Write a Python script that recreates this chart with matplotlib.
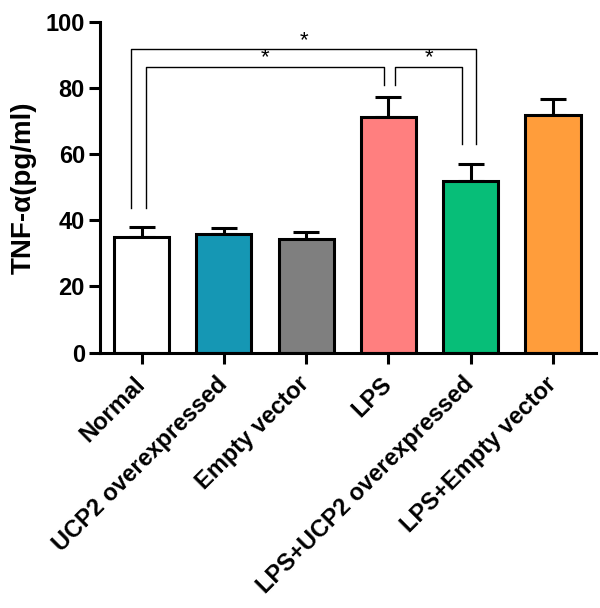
import numpy as np
import matplotlib.pyplot as plt

plt.rcParams['font.family'] = ['Liberation Sans', 'DejaVu Sans']
plt.rcParams['font.weight'] = 'bold'

groups = ['Normal', 'UCP2 overexpressed', 'Empty vector', 'LPS',
          'LPS+UCP2 overexpressed', 'LPS+Empty vector']
means = [34.9, 35.8, 34.5, 71.1, 51.8, 71.8]
errs = [3.1, 2.0, 2.1, 6.3, 5.1, 4.9]
colors = ['#ffffff', '#1597b4', '#7f7f7f', '#ff7f7f', '#07be78', '#ff9d3b']

# significance brackets: (left bar, left offset, right bar, right offset,
#                         height, left leg bottom, right leg bottom)
brackets = [
    (0, -0.13, 4, 0.07, 91.7, 43.8, 63.0),
    (0, 0.05, 3, -0.06, 86.5, 43.8, 80.9),
    (3, 0.077, 4, -0.10, 86.5, 80.9, 63.0),
]

fig = plt.figure(figsize=(6, 6.08), dpi=100)
ax = fig.add_axes([0.167, 0.420, 0.826, 0.544])

x = np.arange(len(groups))
ax.bar(x, means, width=0.67, color=colors, edgecolor='black', linewidth=2.2, zorder=2)
ax.errorbar(x, means, yerr=[np.zeros(len(errs)), errs], fmt='none', ecolor='black',
            elinewidth=2.2, capsize=9.7, capthick=2.2, zorder=1)

for b in brackets:
    x1 = x[b[0]] + b[1]
    x2 = x[b[2]] + b[3]
    h = b[4]
    ax.plot([x1, x1, x2, x2], [b[5], h, h, b[6]], color='black', lw=1.0)
    ax.text((x1 + x2) / 2, h - 0.5, '*', ha='center', va='bottom',
            fontsize=16, fontweight='normal')

ax.set_xlim(-0.503, 5.52)
ax.set_ylim(0, 100)
ax.set_yticks([0, 20, 40, 60, 80, 100])
ax.set_xticks(x)
ax.set_xticklabels(groups, rotation=45, ha='right', va='center', rotation_mode='anchor',
                   fontsize=17.8)
ax.tick_params(axis='both', width=2.2, length=8, labelsize=17)
ax.tick_params(axis='y', pad=3)
ax.tick_params(axis='x', pad=12)
ax.set_ylabel('TNF-α(pg/ml)', fontsize=20, fontweight='bold', labelpad=6)

for s in ['top', 'right']:
    ax.spines[s].set_visible(False)
for s in ['left', 'bottom']:
    ax.spines[s].set_linewidth(2.2)

fig.savefig('out.png', dpi=100)
